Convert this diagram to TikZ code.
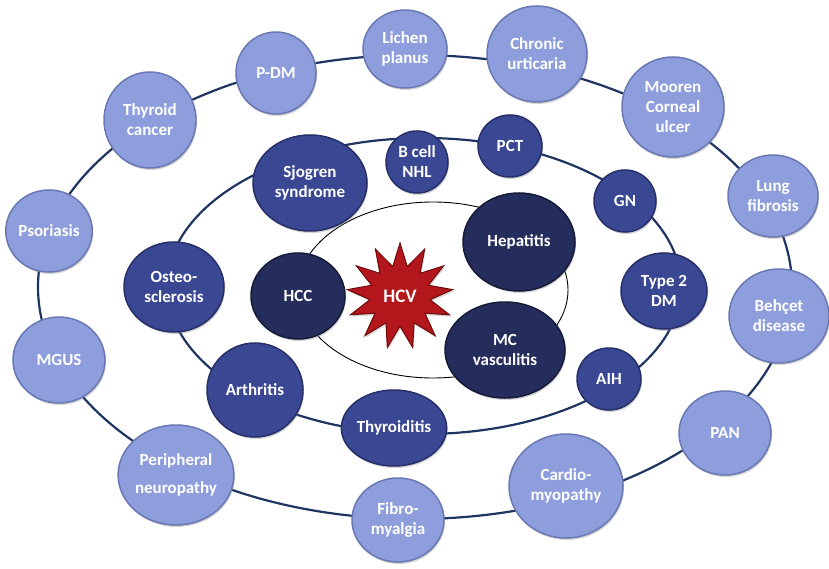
\documentclass[tikz,border=0pt]{standalone}
\usepackage{fontspec}
\setmainfont{Carlito}
\usetikzlibrary{shapes.geometric,shadows}
\definecolor{outerfill}{HTML}{8E9EDC}
\definecolor{outerrim}{HTML}{6A78B4}
\definecolor{midfill}{HTML}{3A4893}
\definecolor{midrim}{HTML}{262F6A}
\definecolor{darkfill}{HTML}{252D5C}
\definecolor{darkrim}{HTML}{151A38}
\definecolor{ringcol}{HTML}{1F3461}
\definecolor{starfill}{HTML}{B3171C}
\definecolor{starrim}{HTML}{6E0A0C}
\tikzset{
  bub/.style={ellipse, inner sep=0pt, align=center, text=white,
    font=\fontsize{17}{20}\selectfont\bfseries, line width=1.5pt,
    drop shadow={opacity=0.35, shadow xshift=1pt, shadow yshift=-2pt}},
  sz/.style 2 args={minimum width=#1pt, minimum height=#2pt},
  outerb/.style={bub, fill=outerfill, draw=outerrim},
  midb/.style={bub, fill=midfill, draw=midrim},
  darkb/.style={bub, fill=darkfill, draw=darkrim},
  ring/.style={draw=ringcol, line width=2.2pt},
  core/.style={draw=black, line width=0.9pt},
}
\begin{document}
\begin{tikzpicture}[x=1pt,y=-1pt]
\useasboundingbox (0,0) rectangle (829,569);
% rings
\coordinate (oc) at (415,287);
\coordinate (ic) at (424,286);
\coordinate (cc) at (433,290);
\draw[ring] (oc) ellipse [x radius=377pt, y radius=232pt];
\draw[ring] (ic) ellipse [x radius=257pt, y radius=148pt];
\draw[core] (cc) ellipse [x radius=135pt, y radius=88pt];
% outer nodes
\node[outerb, sz={84}{78}] (lp) at (405,49) {Lichen\\planus};
\node[outerb, sz={100}{96}] (cu) at (537,54) {Chronic\\urticaria};
\node[outerb, sz={102}{100}] (mc) at (673,107) {Mooren\\Corneal\\ulcer};
\node[outerb, sz={90}{82}] (lf) at (773,196) {Lung\\fibrosis};
\node[outerb, sz={100}{94}] (bd) at (779,316) {Behçet\\disease};
\node[outerb, sz={92}{84}] (pan) at (725,433) {PAN};
\node[outerb, sz={114}{104}] (cm) at (566,486) {Cardio-\\myopathy};
\node[outerb, sz={92}{84}] (fm) at (398,520) {Fibro-\\myalgia};
\node[outerb, sz={112}{100}] (pn) at (176,475) {Peripheral\\[8pt]neuropathy};
\node[outerb, sz={92}{86}] (mg) at (59,360) {MGUS};
\node[outerb, sz={86}{82}] (ps) at (49,231) {Psoriasis};
\node[outerb, sz={92}{96}] (tc) at (150,120) {Thyroid\\cancer};
\node[outerb, sz={80}{82}] (pdm) at (276,73) {P-DM};
% middle nodes
\node[midb, sz={114}{96}] (sj) at (310,183) {Sjogren\\syndrome};
\node[midb, sz={62}{62}] (bc) at (417,162) {B cell\\NHL};
\node[midb, sz={64}{62}] (pct) at (510,146) {PCT};
\node[midb, sz={62}{62}] (gn) at (625,201) {GN};
\node[midb, sz={86}{76}] (t2) at (664,291) {Type 2\\DM};
\node[midb, sz={64}{62}] (aih) at (609,379) {AIH};
\node[midb, sz={94}{76}] (thy) at (394,428) {Thyroiditis};
\node[midb, sz={96}{94}] (ar) at (255,390) {Arthritis};
\node[midb, sz={100}{90}] (os) at (174,287) {Osteo-\\sclerosis};
% inner nodes
\node[darkb, sz={94}{86}] (hcc) at (298,296) {HCC};
\node[darkb, sz={112}{98}] (hep) at (519,242) {Hepatitis};
\node[darkb, sz={120}{96}] (mcv) at (505,350) {MC\\vasculitis};
% star
\node[star, star points=13, star point ratio=1.75, minimum size=106pt, inner sep=0pt,
      fill=starfill, draw=starrim, line width=1pt, text=white,
      font=\fontsize{19}{22}\selectfont\bfseries,
      drop shadow={opacity=0.3, shadow xshift=1pt, shadow yshift=-2pt}] (hcv) at (400,296) {HCV};
\end{tikzpicture}
\end{document}
